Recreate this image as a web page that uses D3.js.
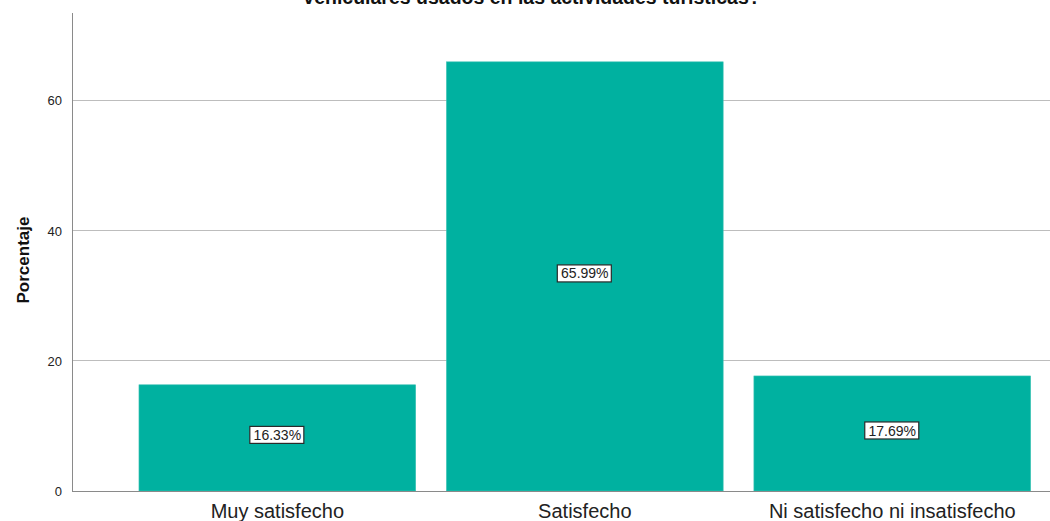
<!DOCTYPE html>
<html>
<head>
<meta charset="utf-8">
<script src="https://cdn.jsdelivr.net/npm/d3@7"></script>
<style>
  html, body { margin: 0; padding: 0; background: #fff; }
  svg { display: block; font-family: Arial, "Liberation Sans", sans-serif; }
</style>
</head>
<body>
<svg id="chart" width="1050" height="521"></svg>
<script>
// Satisfaction levels and their share of respondents (%)
const categories = ["Muy satisfecho", "Satisfecho", "Ni satisfecho ni insatisfecho"];
const percentages = [16.33, 65.99, 17.69];
const yTicks = [0, 20, 40, 60];
const titleText = "vehiculares usados en las actividades turísticas?";
const yLabel = "Porcentaje";

const svg = d3.select("#chart");
const plot = { left: 72, right: 1050, top: 13, bottom: 491 };

const y = d3.scaleLinear().domain([0, 73.5]).range([plot.bottom, plot.top]);
const x = d3.scaleBand()
  .domain(categories)
  .range([123.6, 1046])
  .paddingInner(0.1)
  .paddingOuter(0.05);

// Horizontal gridlines
svg.append("g")
  .selectAll("line")
  .data(yTicks.filter(d => d > 0))
  .join("line")
  .attr("x1", plot.left).attr("x2", plot.right)
  .attr("y1", d => y(d)).attr("y2", d => y(d))
  .attr("stroke", "#bdbdbd").attr("stroke-width", 1)
  .attr("shape-rendering", "crispEdges");

// Bars
svg.append("g")
  .selectAll("rect")
  .data(percentages)
  .join("rect")
  .attr("x", (d, i) => x(categories[i]))
  .attr("width", x.bandwidth())
  .attr("y", d => y(d))
  .attr("height", d => y(0) - y(d))
  .attr("fill", "#00b1a0")
  .attr("stroke", "#3cc2b4")
  .attr("stroke-width", 0.6);

// Y axis
const yAxis = svg.append("g")
  .attr("transform", `translate(${plot.left},0)`)
  .call(d3.axisLeft(y).tickValues(yTicks).tickSize(0).tickPadding(10).tickFormat(d3.format("d")));
yAxis.select(".domain").remove();
yAxis.selectAll("text")
  .attr("font-size", 13).attr("fill", "#222")
  .attr("font-family", "Arial, 'Liberation Sans', sans-serif");

svg.append("line")
  .attr("x1", plot.left).attr("x2", plot.left)
  .attr("y1", plot.top).attr("y2", plot.bottom)
  .attr("stroke", "#8a8a8a").attr("shape-rendering", "crispEdges");

// X axis
const xAxis = svg.append("g")
  .attr("transform", `translate(0,${plot.bottom})`)
  .call(d3.axisBottom(x).tickSize(0).tickPadding(13));
xAxis.select(".domain").remove();
xAxis.selectAll("text")
  .attr("font-size", 20).attr("fill", "#222")
  .attr("font-family", "Arial, 'Liberation Sans', sans-serif");

svg.append("line")
  .attr("x1", plot.left).attr("x2", plot.right)
  .attr("y1", plot.bottom).attr("y2", plot.bottom)
  .attr("stroke", "#8a8a8a").attr("shape-rendering", "crispEdges");

// Axis title
svg.append("text")
  .attr("transform", `translate(29,260) rotate(-90)`)
  .attr("text-anchor", "middle")
  .attr("font-size", 17).attr("font-weight", "bold").attr("fill", "#111")
  .text(yLabel);

// Chart title (its last line sits at the top edge)
svg.append("text")
  .attr("x", 532).attr("y", 4)
  .attr("text-anchor", "middle")
  .attr("font-size", 19.5).attr("font-weight", "bold").attr("fill", "#111")
  .text(titleText);

// Value labels in boxes
const labels = svg.append("g").selectAll("g")
  .data(percentages)
  .join("g")
  .attr("transform", (d, i) => `translate(${x(categories[i]) + x.bandwidth() / 2},${(y(d) + y(0)) / 2 - 3})`);

labels.each(function(d) {
  const g = d3.select(this);
  const t = g.append("text")
    .attr("text-anchor", "middle")
    .attr("dy", "0.36em")
    .attr("font-size", 14).attr("fill", "#222")
    .text(d.toFixed(2) + "%");
  const bb = t.node().getBBox();
  g.insert("rect", "text")
    .attr("x", Math.round(bb.x) - 3.5).attr("y", -8.5)
    .attr("width", Math.round(bb.width) + 7).attr("height", 17)
    .attr("fill", "#fff").attr("stroke", "#2a2a2a").attr("stroke-width", 1.2);
});
</script>
</body>
</html>
